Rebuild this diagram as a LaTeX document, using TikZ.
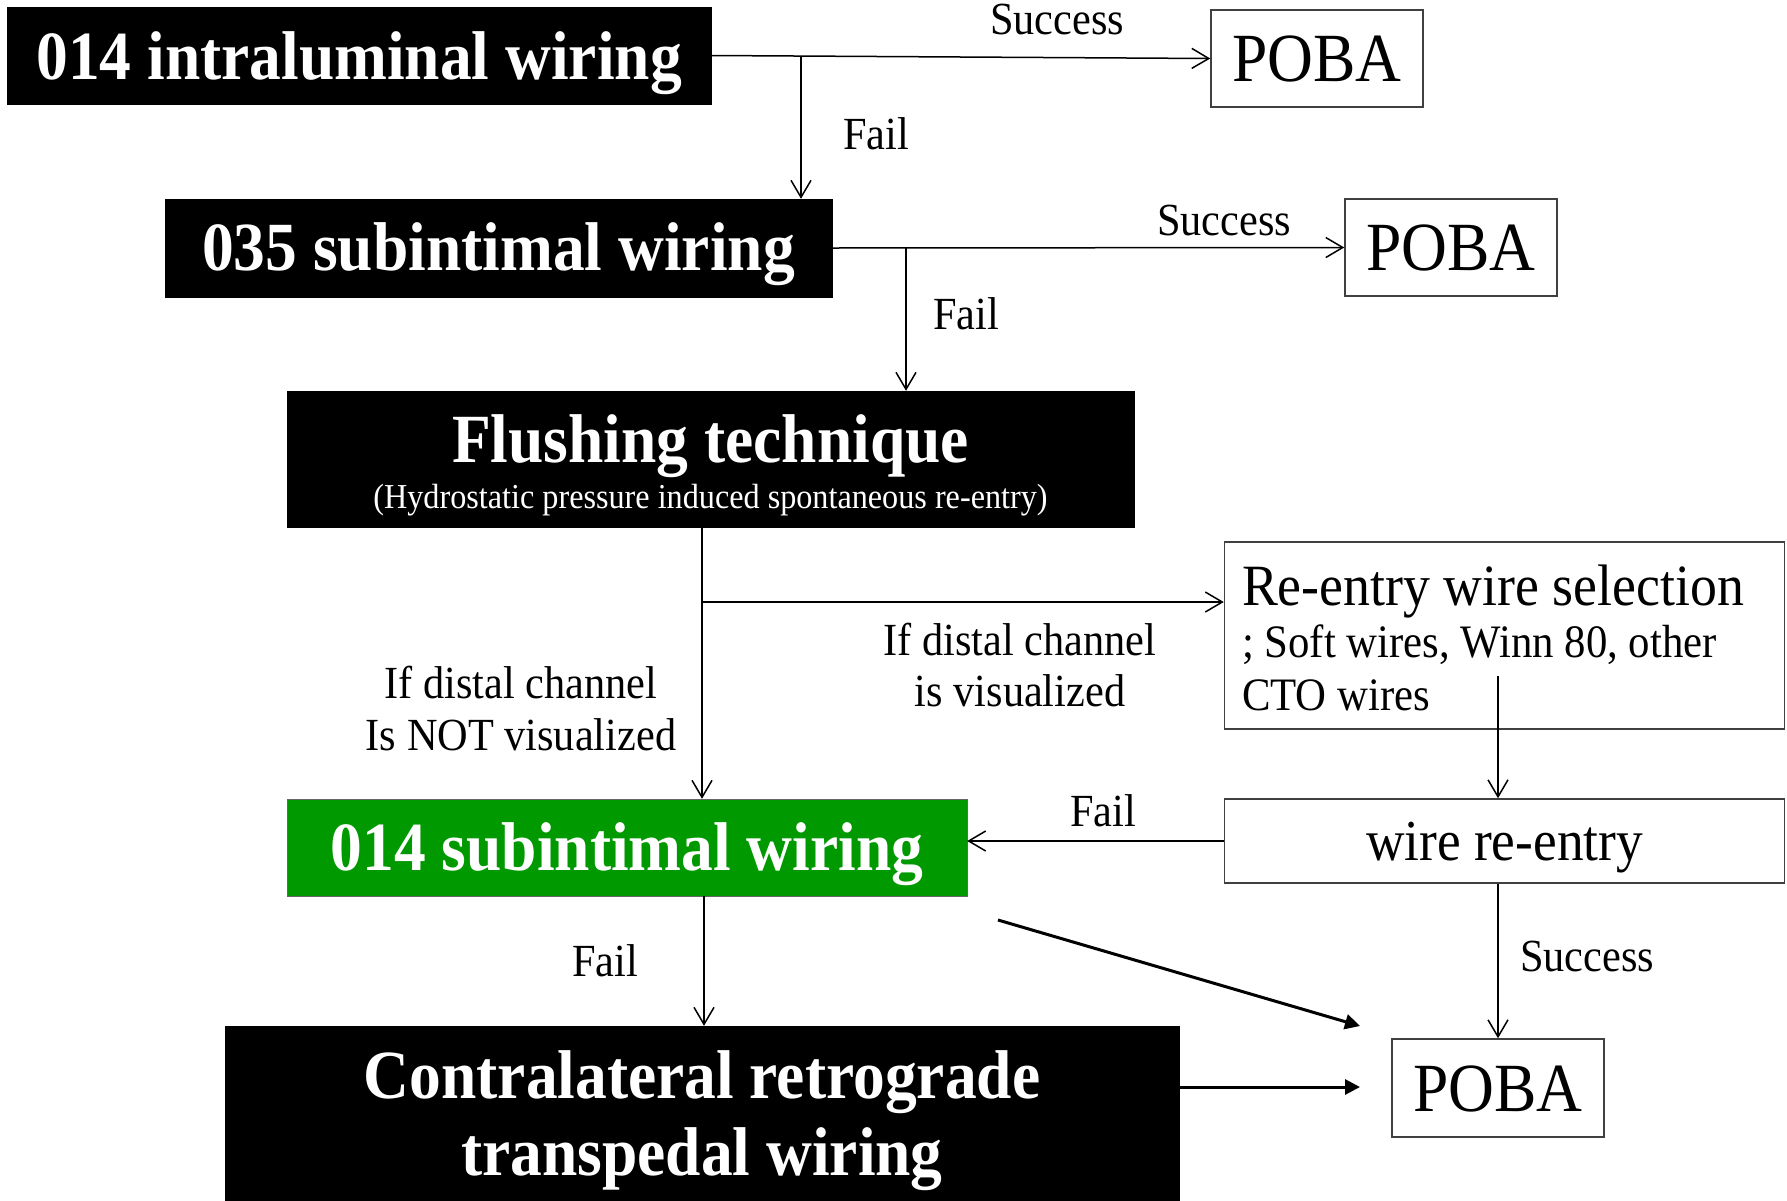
\documentclass[tikz,border=0pt]{standalone}
\usepackage{fontspec}
\setmainfont[FakeStretch=0.92]{Liberation Serif}
\usetikzlibrary{arrows.meta,calc}
\definecolor{ggreen}{RGB}{0,153,0}
\begin{document}
\begin{tikzpicture}[x=1pt,y=-1pt,
  blk/.style={fill=black, draw=black, text=white, inner sep=0pt},
  wbox/.style={draw=black!75, line width=1.5pt, fill=white, inner sep=0pt},
  big/.style={font=\fontsize{69}{77}\selectfont\bfseries},
  poba/.style={wbox, minimum width=212pt, minimum height=97pt, text depth=0pt, font=\fontsize{69}{77}\selectfont},
  lbl/.style={anchor=base, inner sep=0pt, font=\fontsize{46}{51}\selectfont},
  arr/.style={line width=1.5pt, -{Straight Barb[length=17pt,width=20pt,line width=1.5pt]}},
  farr/.style={line width=3pt, -{Triangle[length=15pt,width=15pt]}},
]
\useasboundingbox (0,0) rectangle (1787,1200);

% boxes
\node[blk, big, minimum width=704pt, minimum height=97pt, text height=48pt, text depth=0pt] (b1) at (359,55.5) {014 intraluminal wiring};
\node[poba, text height=46pt] (p1) at (1317,58.5) {POBA};
\node[blk, big, minimum width=667pt, minimum height=98pt, text height=45pt, text depth=0pt] (b2) at (498.5,248) {035 subintimal wiring};
\node[poba, text height=46pt] (p2) at (1451,247.5) {POBA};
\node[blk, minimum width=847pt, minimum height=136pt, text width=800pt, align=flush center, text height=6pt, text depth=0pt, font=\fontsize{35}{46}\selectfont] (fl) at (710.5,459)
  {{\fontsize{69}{46}\selectfont\bfseries Flushing technique}\\(Hydrostatic pressure induced spontaneous re-entry)};
\node[wbox, minimum width=560pt, minimum height=187pt, text width=525pt, align=flush left, text height=0pt, text depth=61pt, font=\fontsize{46.5}{52.5}\selectfont] (re) at (1504.5,635.5)
  {{\fontsize{58.5}{52.5}\selectfont Re-entry wire selection}\\; Soft wires, Winn 80, other\\CTO wires};
\node[blk, big, fill=ggreen, draw=black!60, minimum width=680pt, minimum height=97pt, text height=45pt, text depth=0pt] (gr) at (627,847.5) {014 subintimal wiring};
\node[wbox, minimum width=560pt, minimum height=84pt, text height=38pt, text depth=0pt, font=\fontsize{58}{66}\selectfont] (wr) at (1504.5,841) {wire re-entry};
\node[blk, big, minimum width=954pt, minimum height=174pt, text width=900pt, align=flush center, text height=0pt, text depth=30pt] (ct) at (702,1113)
  {Contralateral retrograde\\transpedal wiring};
\node[poba, minimum height=98pt, text height=47pt] (p3) at (1498,1088) {POBA};

% junctions
\coordinate (j1) at (801,56.5);
\coordinate (j2) at (906,248);
\coordinate (j3) at (702,527);
\coordinate (j4) at (702,602);
\coordinate (j5) at (1498,676);
\coordinate (j6) at (704,896);
\coordinate (d1) at (998,920);
\coordinate (d2) at (1360,1026);
\coordinate (d3) at (1360,1087);

% connectors
\draw[arr] (b1.east) -- (p1.west);
\draw[arr] (j1) -- (j1 |- b2.north);
\draw[arr] (b2.east) -- (p2.west);
\draw[arr] (j2) -- (j2 |- fl.north);
\draw[arr] (j3) -- (j3 |- gr.north);
\draw[arr] (j4) -- (j4 -| re.west);
\draw[arr] (j5) -- (j5 |- wr.north);
\draw[arr, line width=2pt] (wr.west) -- (wr.west -| gr.east);
\draw[arr] (j6) -- (j6 |- ct.north);
\draw[farr] (d1) -- (d2);
\draw[farr] (d3 -| ct.east) -- (d3);
\draw[arr] (p3.north |- wr.south) -- (p3.north);

% labels
\node[lbl] (s1) at (1057,34) {Success};
\node[lbl] (f1) at (876,149) {Fail};
\node[lbl] (s2) at (1224,235) {Success};
\node[lbl] (f2) at (966,329) {Fail};
\node[lbl, text width=400pt, align=flush center] (v1) at (1020,655) {If distal channel\\is visualized};
\node[lbl, text width=400pt, align=flush center, font=\fontsize{46}{52}\selectfont] (v2) at (521,698) {If distal channel\\Is NOT visualized};
\node[lbl] (f3) at (1103,826) {Fail};
\node[lbl] (f4) at (605,976) {Fail};
\node[lbl] (s3) at (1587,971) {Success};
\end{tikzpicture}
\end{document}
